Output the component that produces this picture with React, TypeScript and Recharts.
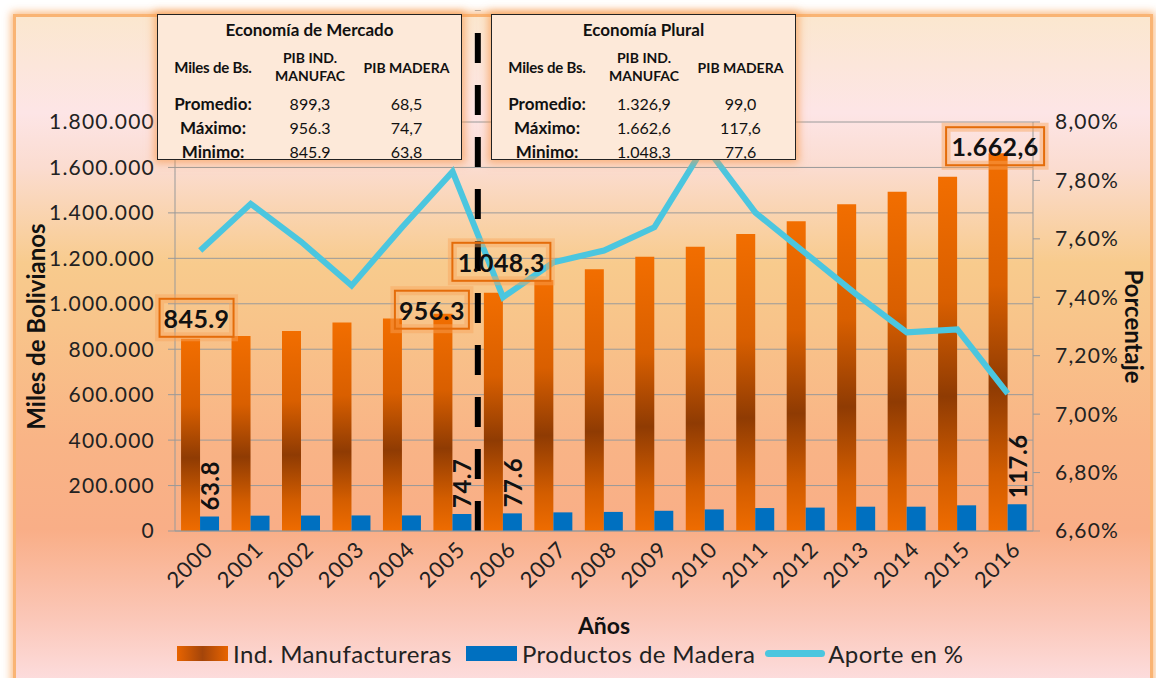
import React from "react";
import {
  ComposedChart,
  Bar,
  Line,
  XAxis,
  YAxis,
  CartesianGrid,
  Legend,
  LabelList,
  ReferenceLine,
} from "recharts";

const years = ["2000", "2001", "2002", "2003", "2004", "2005", "2006", "2007", "2008", "2009", "2010", "2011", "2012", "2013", "2014", "2015", "2016"];
const manufactureras = [845900, 858000, 880000, 918000, 935000, 956300, 1048300, 1105000, 1152000, 1207000, 1251000, 1307000, 1363000, 1438000, 1493000, 1559000, 1662600];
const madera = [63800, 67500, 68000, 68500, 68500, 74700, 77600, 82000, 84000, 89000, 95000, 101000, 103000, 107000, 107000, 113000, 117600];
const aporte = [7.56, 7.72, 7.59, 7.44, 7.64, 7.83, 7.4, 7.52, 7.56, 7.64, 7.92, 7.69, 7.55, 7.41, 7.28, 7.29, 7.07];
const manufLabels = ["845.9", "", "", "", "", "956.3", "1.048,3", "", "", "", "", "", "", "", "", "", "1.662,6"];
const maderaLabels = ["63.8", "", "", "", "", "74.7", "77.6", "", "", "", "", "", "", "", "", "", "117.6"];
const leftTicks = [0, 200000, 400000, 600000, 800000, 1000000, 1200000, 1400000, 1600000, 1800000];
const rightTicks = [6.6, 6.8, 7.0, 7.2, 7.4, 7.6, 7.8, 8.0];

const seriesNames = ["Ind. Manufactureras", "Productos de Madera", "Aporte en %"];

const tableRows = ["Promedio:", "Máximo:", "Minimo:"];
const mercadoManuf = ["899,3", "956.3", "845.9"];
const mercadoMadera = ["68,5", "74,7", "63,8"];
const pluralManuf = ["1.326,9", "1.662,6", "1.048,3"];
const pluralMadera = ["99,0", "117,6", "77,6"];

// manual nudges of the boxed labels, as placed in the original
const boxNudge: Record<string, [number, number]> = {
  "845.9": [6, -21],
  "956.3": [-11, -4],
  "1.048,3": [8, -31],
  "1.662,6": [-3, -7],
};

const data = years.map((year, i) => ({
  year,
  manuf: manufactureras[i],
  madera: madera[i],
  aporte: aporte[i],
  manufLabel: manufLabels[i],
  maderaLabel: maderaLabels[i],
}));

const FONT = "Lato, 'Open Sans', sans-serif";
const ORANGE = "#e46c0a";
const BLUE = "#0070c0";
const CYAN = "#4bc6df";

function fmtMiles(v: number) {
  return String(v).replace(/\B(?=(\d{3})+(?!\d))/g, ".");
}

function fmtPct(v: number) {
  return v.toFixed(2).replace(".", ",") + "%";
}

function BoxLabel(props: any) {
  const { x, y, width, value } = props;
  if (!value) return null;
  const [dx, dy] = boxNudge[value] || [0, -20];
  const cx = x + width / 2 + dx;
  const cy = y + dy;
  const w = value.length * 12 + 14;
  const h = 38;
  return (
    <g>
      <rect x={cx - w / 2} y={cy - h / 2} width={w} height={h} fill="none" stroke="#f9a55a" strokeOpacity={0.45} strokeWidth={9} />
      <rect x={cx - w / 2} y={cy - h / 2} width={w} height={h} fill="none" stroke={ORANGE} strokeWidth={2} />
      <text x={cx} y={cy} textAnchor="middle" dominantBaseline="central" fontFamily={FONT} fontWeight={700} fontSize={25} letterSpacing={0.4} fill="#111">
        {value}
      </text>
    </g>
  );
}

function VerticalLabel(props: any) {
  const { x, y, width, value } = props;
  if (!value) return null;
  const cx = x + width / 2;
  const by = y - 6;
  return (
    <text x={cx} y={by} transform={`rotate(-90, ${cx}, ${by})`} textAnchor="start" dominantBaseline="central" fontFamily={FONT} fontWeight={700} fontSize={24} letterSpacing={0.5} fill="#111">
      {value}
    </text>
  );
}

function YearTick(props: any) {
  const { x, y, payload } = props;
  return (
    <g transform={`translate(${x + 8},${y + 6})`}>
      <text transform="rotate(-45)" textAnchor="end" dominantBaseline="central" fontFamily={FONT} fontSize={22} letterSpacing={0.8} fill="#222">
        {payload.value}
      </text>
    </g>
  );
}

function LegendContent() {
  const text: React.CSSProperties = { fontFamily: FONT, fontSize: 24, letterSpacing: 0.4, color: "#222", marginLeft: 5, whiteSpace: "nowrap" };
  return (
    <div style={{ display: "flex", alignItems: "center", height: 30 }}>
      <span style={{ width: 51, height: 15, background: "linear-gradient(90deg, #e86400 0%, #a4450a 50%, #e86400 100%)" }} />
      <span style={{ ...text, marginRight: 14 }}>{seriesNames[0]}</span>
      <span style={{ width: 51, height: 15, background: BLUE }} />
      <span style={{ ...text, marginRight: 10 }}>{seriesNames[1]}</span>
      <span style={{ width: 60, height: 7, borderRadius: 4, background: CYAN }} />
      <span style={{ ...text, marginLeft: 3 }}>{seriesNames[2]}</span>
    </div>
  );
}

function StatsTable({ title, left, manuf, mad }: { title: string; left: number; manuf: string[]; mad: string[] }) {
  const cell: React.CSSProperties = { display: "flex", alignItems: "center", justifyContent: "center", textAlign: "center" };
  return (
    <div
      style={{
        position: "absolute",
        left,
        top: 14,
        width: 305,
        height: 146,
        boxSizing: "border-box",
        border: "1.5px solid #222",
        background: "#fde9d9",
        boxShadow: "0 0 8px 3px rgba(247,150,70,0.65)",
        fontFamily: FONT,
        color: "#111",
        zIndex: 2,
      }}
    >
      <div style={{ ...cell, height: 28, fontWeight: 700, fontSize: 17 }}>{title}</div>
      <div style={{ display: "grid", gridTemplateColumns: "110px 84px 1fr", height: 48, fontWeight: 700, fontSize: 14 }}>
        <div style={{ ...cell, fontSize: 15, letterSpacing: -0.2 }}>Miles de Bs.</div>
        <div style={{ ...cell, lineHeight: "18px" }}>
          PIB IND.
          <br />
          MANUFAC
        </div>
        <div style={cell}>PIB MADERA</div>
      </div>
      {tableRows.map((r, i) => (
        <div key={r} style={{ display: "grid", gridTemplateColumns: "110px 84px 1fr", height: 24, fontSize: 16 }}>
          <div style={{ ...cell, fontWeight: 700, fontSize: 17 }}>{r}</div>
          <div style={cell}>{manuf[i]}</div>
          <div style={cell}>{mad[i]}</div>
        </div>
      ))}
    </div>
  );
}

export default function App() {
  return (
    <div style={{ position: "absolute", left: 0, top: 0, width: 1156, height: 678, overflow: "hidden", background: "#fff" }}>
      <div
        style={{
          position: "absolute",
          left: 13,
          top: 14,
          width: 1140,
          height: 690,
          boxSizing: "border-box",
          border: "3px solid #f9b474",
          boxShadow: "0 0 8px 2px rgba(249,170,100,0.8)",
          background:
            "linear-gradient(180deg, #fbe7cf 0%, #fde5e6 14%, #fbdcd0 22%, #f8cb8d 36%, #f8c48a 45%, #f9b486 62%, #f9ae87 75%, #fbc7b8 88%, #fde4ea 100%)",
        }}
      />
      <StatsTable title="Economía de Mercado" left={157} manuf={mercadoManuf} mad={mercadoMadera} />
      <StatsTable title="Economía Plural" left={491} manuf={pluralManuf} mad={pluralMadera} />
      <div style={{ position: "absolute", left: 0, top: 0 }}>
        <ComposedChart
          width={1156}
          height={678}
          data={data}
          margin={{ top: 122, right: 0, bottom: 10, left: 0 }}
          barCategoryGap="12%"
          barGap={0}
        >
          <defs>
            <linearGradient id="manufGrad" x1="0" y1="0" x2="0" y2="1">
              <stop offset="0%" stopColor="#f26e00" />
              <stop offset="35%" stopColor="#d95f00" />
              <stop offset="62%" stopColor="#8f3b03" />
              <stop offset="85%" stopColor="#d35d00" />
              <stop offset="100%" stopColor="#ef6c00" />
            </linearGradient>
          </defs>
          <CartesianGrid vertical={false} stroke="#9a9a9a" strokeWidth={1} yAxisId="left" />
          <XAxis
            dataKey="year"
            height={107}
            interval={0}
            tick={<YearTick />}
            tickLine={false}
            axisLine={{ stroke: "#999" }}
            label={{ value: "Años", position: "insideBottom", offset: 4, fontFamily: FONT, fontWeight: 700, fontSize: 23, fill: "#111" }}
          />
          <YAxis
            yAxisId="left"
            width={175}
            domain={[0, 1800000]}
            ticks={leftTicks}
            tickFormatter={fmtMiles}
            tick={{ fontFamily: FONT, fontSize: 21, letterSpacing: 1.2, fill: "#222" }}
            tickSize={7}
            tickMargin={13}
            tickLine={{ stroke: "#999" }}
            axisLine={{ stroke: "#999" }}
            label={{ value: "Miles de Bolivianos", angle: -90, position: "insideLeft", offset: 36, fontFamily: FONT, fontWeight: 700, fontSize: 24, fill: "#111", style: { textAnchor: "middle" } }}
          />
          <YAxis
            yAxisId="right"
            orientation="right"
            width={123}
            domain={[6.6, 8.0]}
            ticks={rightTicks}
            tickFormatter={fmtPct}
            tick={{ fontFamily: FONT, fontSize: 21, letterSpacing: 1.2, fill: "#222" }}
            tickSize={7}
            tickMargin={15}
            tickLine={{ stroke: "#999" }}
            axisLine={{ stroke: "#999" }}
            label={{ value: "Porcentaje", angle: 90, position: "insideRight", offset: 22, fontFamily: FONT, fontWeight: 700, fontSize: 24, fill: "#111", style: { textAnchor: "middle" } }}
          />
          <Legend verticalAlign="bottom" wrapperStyle={{ left: 177, width: 850 }} content={<LegendContent />} />
          <Bar yAxisId="left" dataKey="manuf" name={seriesNames[0]} fill="url(#manufGrad)" isAnimationActive={false}>
            <LabelList dataKey="manufLabel" content={<BoxLabel />} />
          </Bar>
          <Bar yAxisId="left" dataKey="madera" name={seriesNames[1]} fill={BLUE} isAnimationActive={false}>
            <LabelList dataKey="maderaLabel" content={<VerticalLabel />} />
          </Bar>
          <Line
            yAxisId="right"
            dataKey="aporte"
            name={seriesNames[2]}
            type="linear"
            stroke={CYAN}
            strokeWidth={6}
            dot={false}
            activeDot={false}
            isAnimationActive={false}
          />
          <ReferenceLine
            yAxisId="left"
            segment={[
              { x: "2005", y: 0 },
              { x: "2005", y: 2290000 },
            ]}
            position="end"
            ifOverflow="visible"
            stroke="#000"
            strokeWidth={6}
            strokeDasharray="30 22"
          />
        </ComposedChart>
      </div>
    </div>
  );
}
